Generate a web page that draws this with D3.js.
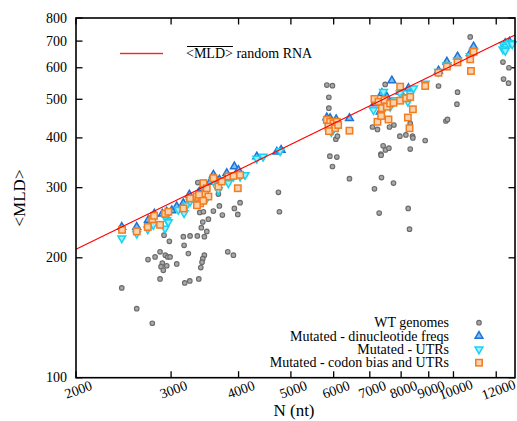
<!DOCTYPE html>
<html><head><meta charset="utf-8">
<script src="https://cdn.jsdelivr.net/npm/d3@7"></script>
<style>body{margin:0;background:#fff}svg{display:block}</style>
</head><body><svg id="c" width="517" height="421" font-family="'Liberation Serif', 'Times New Roman', Times, 'Nimbus Roman', 'DejaVu Serif', serif"></svg>
<script>
const xTicks=[2000,3000,4000,5000,6000,7000,8000,9000,10000,12000];
const yTicks=[100,200,300,400,500,600,700,800];
const randomN=[2000,13000];
const randomMLD=[210,725];
const seriesNames=["WT genomes","Mutated - dinucleotide freqs","Mutated - UTRs","Mutated - codon bias and UTRs"];
const wtGenomes=[[3362,309],[2911,228],[2978,220],[3161,226],[3253,227],[3355,227],[3457,226],[3171,215],[3493,233],[3413,238],[3434,246],[3517,250],[3390,260],[3443,261],[3593,262],[3686,270],[3733,256],[3670,289],[3929,266],[3987,257],[4026,275],[4741,292],[4761,261],[2862,207],[2802,201],[2719,198],[2927,203],[2957,201],[2987,201],[2890,194],[2874,190],[2902,186],[2945,191],[3073,193],[3229,205],[3457,203],[3434,199],[3423,195],[3405,189],[3820,207],[3913,203],[2862,177],[3180,173],[3249,175],[3376,177],[2431,168],[2591,149],[2769,137],[5828,543],[5969,541],[5878,506],[5878,475],[6056,397],[6098,404],[5903,360],[6082,358],[5969,339],[6418,316],[7080,426],[7232,420],[7474,545],[7442,515],[7612,426],[7757,431],[7957,404],[8164,407],[8397,404],[8411,400],[8316,435],[8865,394],[8316,375],[9382,540],[10175,521],[10149,486],[9682,441],[9749,445],[7410,382],[7483,373],[7593,377],[7338,364],[7345,362],[7357,318],[7140,298],[7744,308],[7285,259],[8245,266],[8291,236],[10740,717],[12348,620],[12668,600],[12380,562],[12648,549]];
const dinucleotide=[[2431,239],[2591,239],[2723,249],[2793,258],[2890,258],[2945,261],[3008,263],[3073,269],[3161,274],[3243,288],[3370,291],[3419,299],[3468,305],[3543,310],[3593,323],[3686,314],[3804,326],[3929,339],[3997,332],[4323,359],[4708,369],[4796,373],[5828,450],[5911,448],[6064,445],[6418,448],[7690,557],[7370,518],[7140,488],[7968,522],[8254,533],[7316,465],[7528,507],[9382,590],[9724,621],[10175,640],[10894,678],[10740,652],[12700,697],[12470,691]];
const utrs=[[2431,224],[2591,230],[2716,236],[2781,242],[2924,237],[2945,249],[2965,246],[2950,256],[3094,264],[3171,259],[3207,271],[3253,277],[3337,279],[3395,279],[3443,285],[3493,282],[3593,311],[3670,296],[3830,308],[3913,320],[4026,320],[4113,323],[4323,355],[4441,359],[4775,371],[5861,431],[5987,419],[6090,426],[5940,414],[5850,440],[7420,522],[7110,470],[7316,488],[7635,479],[7968,518],[8139,507],[8316,518],[8433,533],[8865,548],[8234,493],[7800,498],[9382,586],[9724,610],[10175,627],[10894,662],[10740,642],[12380,684],[12524,678],[12648,691],[12777,693],[12348,668],[12470,662],[12848,688]];
const codonUtrs=[[2434,235],[2591,233],[2716,239],[2769,250],[2790,255],[2862,242],[2924,258],[2965,261],[3161,266],[3253,282],[3347,285],[3370,279],[3395,274],[3419,282],[3443,308],[3468,290],[3493,299],[3517,285],[3380,288],[3440,278],[3350,271],[3593,317],[3670,302],[3724,311],[3830,320],[3913,321],[3987,299],[4026,323],[5828,444],[5911,439],[5995,435],[6082,439],[5868,427],[6038,423],[5880,416],[6418,417],[6116,431],[7140,501],[7264,493],[7370,475],[7452,498],[7528,479],[7635,488],[7744,490],[7968,538],[7968,496],[8174,503],[8316,507],[8411,472],[8234,450],[8291,423],[7580,445],[7232,439],[7348,454],[8865,540],[9382,583],[9724,604],[10175,619],[10740,630],[10894,658],[10774,589]];

const FONT="'Liberation Serif', 'Times New Roman', Times, 'Nimbus Roman', 'DejaVu Serif', serif";
const L=76,R=515,T=18,B=377.7;
const svg=d3.select("#c");
const x=d3.scaleLog().domain([2000,13000]).range([L,R]);
const y=d3.scaleLog().domain([100,800]).range([B,T]);
const tk=6.5;
function txt(){return svg.append("text").attr("font-family",FONT).attr("fill","#000");}
const ax=svg.append("g").attr("stroke","#000").attr("stroke-width",1.3);
xTicks.forEach(v=>{
  ax.append("line").attr("x1",x(v)).attr("x2",x(v)).attr("y1",B).attr("y2",B-tk);
  ax.append("line").attr("x1",x(v)).attr("x2",x(v)).attr("y1",T).attr("y2",T+tk);
  txt().attr("transform",`translate(${x(v)+4},${394}) rotate(-20)`).attr("text-anchor","middle").attr("font-size",14).text(v);
});
yTicks.forEach(v=>{
  ax.append("line").attr("x1",L).attr("x2",L+tk).attr("y1",y(v)).attr("y2",y(v));
  ax.append("line").attr("x1",R).attr("x2",R-tk).attr("y1",y(v)).attr("y2",y(v));
  txt().attr("x",67).attr("y",y(v)+4.5).attr("text-anchor","end").attr("font-size",14).text(v);
});
txt().attr("transform","translate(25,198) rotate(-90)").attr("text-anchor","middle").attr("font-size",17).text("<MLD>");
txt().attr("x",294).attr("y",416).attr("text-anchor","middle").attr("font-size",17).text("N (nt)");

const pts=svg.append("g");
function circ(g,d){g.selectAll(null).data(d).join("circle").attr("cx",p=>x(p[0])).attr("cy",p=>y(p[1])).attr("r",2.3).attr("fill","#a8a8a8").attr("stroke","#6a6a6a").attr("stroke-width",1.1);}
const tri=d3.symbol().type(d3.symbolTriangle).size(26);
function triUp(g,d){g.selectAll(null).data(d).join("path").attr("d",tri).attr("transform",p=>`translate(${x(p[0])},${y(p[1])})`).attr("fill","#7fbcf2").attr("stroke","#1c74d8").attr("stroke-width",1.5);}
function triDown(g,d){g.selectAll(null).data(d).join("path").attr("d",tri).attr("transform",p=>`translate(${x(p[0])},${y(p[1])}) rotate(180)`).attr("fill","#9feefc").attr("stroke","#19d2f2").attr("stroke-width",1.5);}
function sq(g,d){g.selectAll(null).data(d).join("rect").attr("x",p=>x(p[0])-3.2).attr("y",p=>y(p[1])-3.2).attr("width",6.4).attr("height",6.4).attr("fill","#fbd2b0").attr("stroke","#f27c1e").attr("stroke-width",1.5);}
circ(pts.append("g"),wtGenomes);
triUp(pts.append("g"),dinucleotide);
triDown(pts.append("g"),utrs);
sq(pts.append("g"),codonUtrs);

svg.append("line").attr("x1",x(randomN[0])).attr("y1",y(randomMLD[0])).attr("x2",x(randomN[1])).attr("y2",y(randomMLD[1])).attr("stroke","#ff0000").attr("stroke-width",1.1);

svg.append("rect").attr("x",L).attr("y",T).attr("width",R-L).attr("height",B-T).attr("fill","none").attr("stroke","#000").attr("stroke-width",1.6);

// top-left key
svg.append("rect").attr("x",120).attr("y",52.8).attr("width",43).attr("height",1.4).attr("fill","#ff2020");
const kt=txt().attr("x",186).attr("y",58).attr("font-size",14);
kt.append("tspan").attr("id","mld").text("<MLD>");
kt.append("tspan").text(" random RNA");
const bb=document.getElementById("mld").getComputedTextLength();
svg.append("line").attr("x1",187).attr("x2",186+bb).attr("y1",46.5).attr("y2",46.5).attr("stroke","#000").attr("stroke-width",1);

// bottom-right key
const ky=[322.7,336,349.3,362.7];
seriesNames.forEach((n,i)=>{
  txt().attr("x",449).attr("y",ky[i]+4.5).attr("text-anchor","end").attr("font-size",14).text(n);
});
const kx=479;
const kg=svg.append("g");
circ(kg.append("g"),[[x.invert(kx),y.invert(ky[0])]]);
triUp(kg.append("g"),[[x.invert(kx),y.invert(ky[1])]]);
triDown(kg.append("g"),[[x.invert(kx),y.invert(ky[2])]]);
sq(kg.append("g"),[[x.invert(kx),y.invert(ky[3])]]);
</script></body></html>
